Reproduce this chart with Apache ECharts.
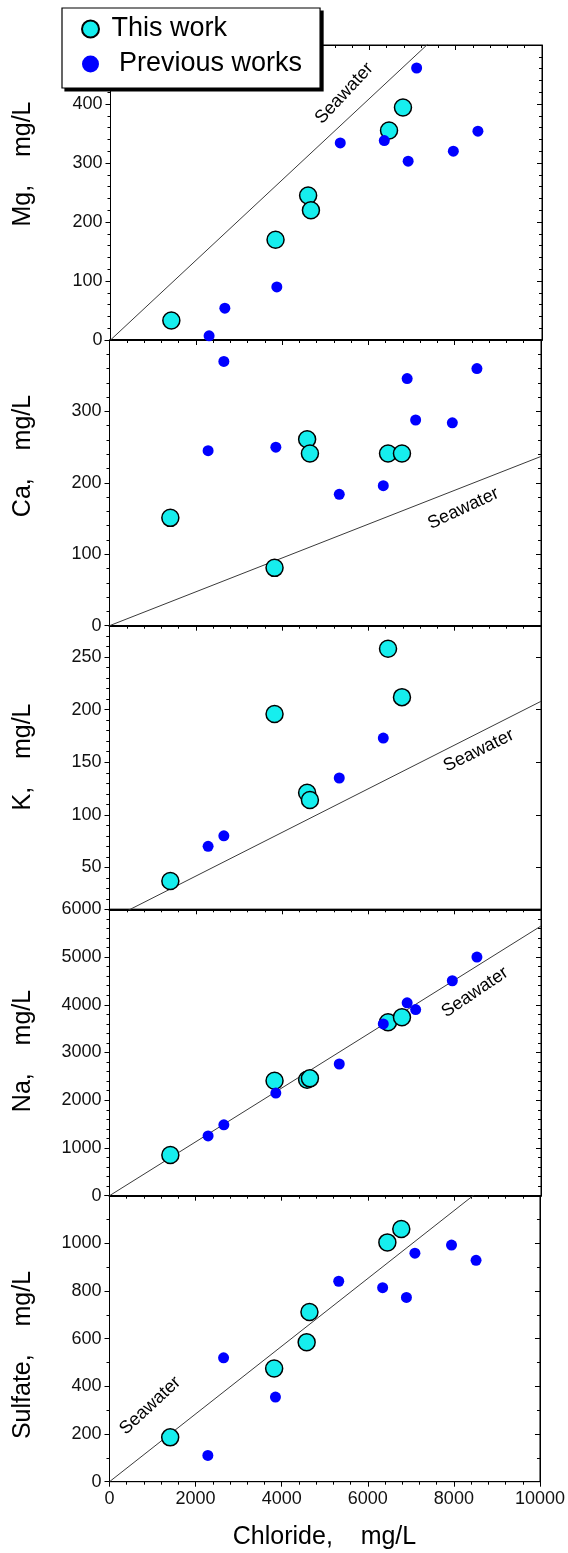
<!DOCTYPE html>
<html><head><meta charset="utf-8">
<script src="https://cdn.jsdelivr.net/npm/echarts@6/dist/echarts.min.js"></script>
<style>html,body{margin:0;padding:0;background:#fff}#chart{width:568px;height:1553px}</style>
</head><body><div id="chart"></div>
<script>
// ---------- data ----------
const chlorideThisWork = [1410, 3825, 4580, 4645, 6455, 6778];
const chloridePrevious = [2285, 2650, 3855, 5325, 6345, 6898, 7095, 7945, 8515];
const mgThisWork = [33, 170, 245, 220, 355, 394];
const mgPrevious = [7, 54, 90, 334, 338, 303, 461, 320, 354];
const caThisWork = [151, 81, 261, 241, 241, 241];
const caPrevious = [245, 370, 250, 184, 196, 346, 288, 284, 360];
const kThisWork = [37, 196, 121, 114, 258, 212];
const kPrevious = [70, 80, null, 135, 173, null, null, null, null];
const naThisWork = [854, 2409, 2430, 2458, 3634, 3739];
const naPrevious = [1253, 1485, 2150, 2759, 3599, 4041, 3900, 4503, 5000];
const sulfateThisWork = [186, 475, 585, 712, 1004, 1060];
const sulfatePrevious = [110, 520, 355, 841, 814, 773, 959, 993, 929];
// seawater dilution line: ion value at chloride = 10000 mg/L
const seawaterAtCl10000 = [682, 237, 208, 5650, 1421];
const xTickLabels = [0, 2000, 4000, 6000, 8000, 10000];
const kTickLabels = [50, 100, 150, 200, 250];

// ---------- layout / style ----------
const FONT = "'Liberation Sans', Arial, Helvetica, sans-serif";
const CYAN = '#16eeee', BLUE = '#0000ff';
const panels = [
  {title:'Mg,    mg/L', tw: mgThisWork, pw: mgPrevious, min:0, max:500, interval:100, minor:5, top:45, height:295, left:110.5, titleY:164, swX:5420, swY:418, swRot:47},
  {title:'Ca,    mg/L', tw: caThisWork, pw: caPrevious, min:0, max:400, interval:100, minor:5, top:340, height:285.7, left:109.5, titleY:456, swX:8200, swY:164, swRot:25},
  {title:'K,    mg/L', tw: kThisWork, pw: kPrevious, min:10, max:280, interval:10, minor:0, top:625.7, height:283.6, left:109.5, titleY:757, swX:8560, swY:161, swRot:26, custom:kTickLabels},
  {title:'Na,    mg/L', tw: naThisWork, pw: naPrevious, min:0, max:6000, interval:1000, minor:5, top:909.3, height:286.4, left:109.5, titleY:1051, swX:8470, swY:4260, swRot:34, showMax:true},
  {title:'Sulfate,    mg/L', tw: sulfateThisWork, pw: sulfatePrevious, min:0, max:1200, interval:200, minor:2, top:1195.7, height:286, left:109.5, titleY:1355, swX:945, swY:319, swRot:43}
];
const PW = 431.5;
const black = {color:'#000', width:1};
const thick = {color:'#000', width:2};
const labelStyle = {fontSize:18, color:'#111', fontFamily:FONT};

const grid = [], xAxis = [], yAxis = [], series = [];
const leftIdx = [];
panels.forEach((p, i) => {
  const last = i === panels.length - 1;
  grid.push({left:p.left, top:p.top, width:PW, height:p.height, show:true, borderColor:'#000', borderWidth:1, containLabel:false});
  xAxis.push({gridIndex:i, type:'value', min:0, max:10000, interval:2000, position:'bottom',
    axisLine:{show:true, onZero:false, lineStyle:last ? black : thick},
    axisTick:{show:last, length:5, lineStyle:black},
    minorTick:{show:last, splitNumber:5, length:3, lineStyle:black},
    axisLabel:Object.assign({show:last, margin:8, formatter:v => String(v), customValues: xTickLabels}, labelStyle),
    splitLine:{show:false}});
  xAxis.push({gridIndex:i, type:'value', min:0, max:10000, interval:2000, position:'top',
    axisLine:{show:true, onZero:false, lineStyle:black},
    axisTick:{show:true, inside:true, length:5, lineStyle:black},
    minorTick:{show:true, splitNumber:5, length:3, lineStyle:black},
    axisLabel:{show:false}, splitLine:{show:false}});
  const baseY = {gridIndex:i, type:'value', min:p.min, max:p.max, interval:p.interval, splitLine:{show:false}};
  leftIdx.push(yAxis.length);
  if (p.custom) {
    yAxis.push(Object.assign({}, baseY, {position:'left',
      axisLine:{show:true, onZero:false, lineStyle:black},
      axisTick:{show:true, length:5, lineStyle:black, customValues:p.custom},
      axisLabel:Object.assign({show:true, margin:8, customValues:p.custom, formatter:v => (v % 50 === 0 ? String(v) : '')}, labelStyle)}));
    yAxis.push(Object.assign({}, baseY, {position:'left',
      axisLine:{show:false}, axisTick:{show:true, length:3, lineStyle:black}, axisLabel:{show:false}}));
    yAxis.push(Object.assign({}, baseY, {position:'right',
      axisLine:{show:true, onZero:false, lineStyle:black},
      axisTick:{show:true, inside:true, length:5, lineStyle:black, customValues:p.custom}, axisLabel:{show:false}}));
    yAxis.push(Object.assign({}, baseY, {position:'right',
      axisLine:{show:false}, axisTick:{show:true, inside:true, length:3, lineStyle:black}, axisLabel:{show:false}}));
  } else {
    yAxis.push(Object.assign({}, baseY, {position:'left',
      axisLine:{show:true, onZero:false, lineStyle:black},
      axisTick:{show:true, length:5, lineStyle:black},
      minorTick:{show:true, splitNumber:p.minor, length:3, lineStyle:black},
      axisLabel:Object.assign({show:true, margin:8, showMaxLabel:!!p.showMax, formatter:v => String(v)}, labelStyle)}));
    yAxis.push(Object.assign({}, baseY, {position:'right',
      axisLine:{show:true, onZero:false, lineStyle:black},
      axisTick:{show:true, inside:true, length:5, lineStyle:black},
      minorTick:{show:true, splitNumber:p.minor, length:3, lineStyle:black},
      axisLabel:{show:false}}));
  }
  const xi = 2 * i, yi = leftIdx[i];
  series.push({name:'Seawater', type:'line', xAxisIndex:xi, yAxisIndex:yi, data:[[0,0],[10000, seawaterAtCl10000[i]]],
    symbol:'none', clip:true, silent:true, z:1, lineStyle:{color:'#3a3a3a', width:1}, animation:false});
  series.push({name:'This work', type:'scatter', xAxisIndex:xi, yAxisIndex:yi,
    data:chlorideThisWork.map((c, k) => [c, p.tw[k]]).filter(d => d[1] != null),
    symbolSize:17, z:2, itemStyle:{color:CYAN, borderColor:'#000', borderWidth:1.5, opacity:1}, animation:false});
  series.push({name:'Previous works', type:'scatter', xAxisIndex:xi, yAxisIndex:yi,
    data:chloridePrevious.map((c, k) => [c, p.pw[k]]).filter(d => d[1] != null),
    symbolSize:11, z:3, itemStyle:{color:BLUE, opacity:1}, animation:false});
});

const chart = echarts.init(document.getElementById('chart'), null, {renderer:'canvas'});
chart.setOption({
  backgroundColor:'#fff',
  animation:false,
  textStyle:{fontFamily:FONT},
  grid, xAxis, yAxis, series,
  legend:{
    orient:'vertical', left:62, top:8, z:10,
    backgroundColor:'#fff', borderColor:'#000', borderWidth:1.2,
    padding:[6, 18, 9, 19], itemGap:5, itemWidth:17, itemHeight:17,
    textStyle:{fontSize:27, fontFamily:FONT, color:'#000', lineHeight:30},
    selectedMode:false,
    data:[{name:'This work', icon:'circle'}, {name:'Previous works', icon:'circle'}],
    formatter:n => (n === 'Previous works' ? '  Previous works' : ' ' + n)
  }
});

// texts: axis titles and "Seawater" labels; hard shadow behind the legend box
const graphic = [];
const lg = chart.getModel().getComponent('legend');
const lv = lg && chart.getViewOfComponentModel ? chart.getViewOfComponentModel(lg) : null;
let box = {x:62, y:8, width:260, height:80};
if (lv && lv.group) {
  const r = lv.group.getBoundingRect();
  box = {x:lv.group.x + r.x, y:lv.group.y + r.y, width:r.width, height:r.height};
}
graphic.push({type:'rect', z:1, silent:true, shape:{x:box.x + 3, y:box.y + 3, width:box.width, height:box.height}, style:{fill:'#000'}});
panels.forEach((p, i) => {
  graphic.push({type:'text', x:23, y:p.titleY, rotation:Math.PI / 2, z:20,
    style:{text:p.title, font:'25px ' + FONT, fill:'#000', textAlign:'center', textVerticalAlign:'middle'}});
  const pt = chart.convertToPixel({xAxisIndex:2 * i, yAxisIndex:leftIdx[i]}, [p.swX, p.swY]);
  graphic.push({type:'text', x:pt[0], y:pt[1], rotation:p.swRot * Math.PI / 180, z:20,
    style:{text:'Seawater', font:'18px ' + FONT, fill:'#000', textAlign:'center', textVerticalAlign:'middle'}});
});
graphic.push({type:'text', x:324.5, y:1537, z:20,
  style:{text:'Chloride,    mg/L', font:'25px ' + FONT, fill:'#000', textAlign:'center', textVerticalAlign:'middle'}});
chart.setOption({graphic});
</script>
</body></html>
